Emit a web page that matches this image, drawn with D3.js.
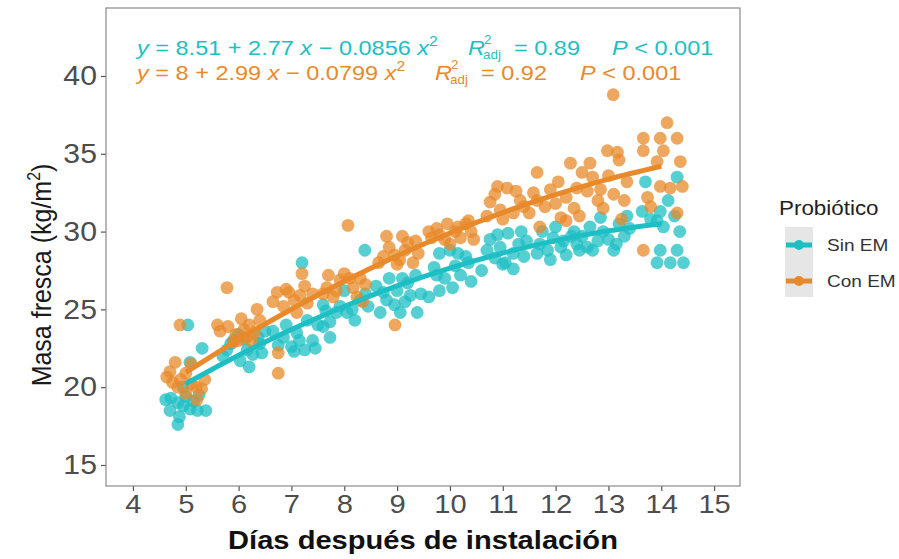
<!DOCTYPE html>
<html>
<head>
<meta charset="utf-8">
<script src="https://cdn.jsdelivr.net/npm/d3@7"></script>
<style>
  body { margin: 0; background: #fff; }
  text { font-family: "Liberation Sans", Arial, sans-serif; }
</style>
</head>
<body>
<svg id="chart" width="899" height="559"></svg>
<script>
// Dades llegides de la figura
const days = [5, 6, 7, 8, 9, 10, 11, 12, 13, 14];
const xTicks = [4, 5, 6, 7, 8, 9, 10, 11, 12, 13, 14, 15];
const yTicks = [15, 20, 25, 30, 35, 40];

// Corbes ajustades (valors de les equacions als dies)
const fitSin = [20.22, 22.05, 23.71, 25.19, 26.51, 27.65, 28.62, 29.42, 30.05, 30.51];
const fitCon = [20.95, 23.06, 25.01, 26.81, 28.44, 29.91, 31.22, 32.37, 33.37, 34.20];

// Punts Sin EM [x, y]
const sinEM = [
  [4.62,19.2],[4.72,19.3],[4.85,19.0],[4.95,18.8],[5.08,18.6],[5.22,18.5],[5.38,18.5],[4.7,18.5],[4.88,18.1],[4.85,17.6],[5.0,19.4],[5.15,19.1],[5.04,24.0],[5.31,22.5],[5.08,21.6],[4.95,20.0],[5.25,19.5],
  [5.78,22.4],[6.03,21.7],[6.16,22.4],[6.27,22.1],[6.44,22.2],[6.37,23.2],[5.9,23.0],[6.1,23.1],[5.7,22.0],[6.2,21.3],[6.4,22.8],[5.85,22.8],[6.5,23.6],[6.0,23.4],
  [7.2,28.0],[6.75,22.7],[6.85,23.2],[7.0,22.6],[7.1,23.5],[7.25,22.4],[7.4,23.0],[6.9,24.0],[7.3,24.3],[7.05,22.3],[7.45,22.5],[6.65,23.6],[7.15,23.0],[7.5,24.0],
  [7.6,25.3],[7.92,25.2],[7.73,24.2],[8.05,24.8],[8.15,25.0],[7.6,23.9],[7.73,23.2],[8.39,28.8],[8.3,25.6],[8.2,24.3],[7.85,24.8],[8.4,26.0],[8.0,26.2],[8.45,25.2],[7.65,24.9],
  [8.74,26.1],[9.0,26.2],[9.25,25.9],[8.95,25.3],[8.68,24.8],[9.06,24.8],[9.38,24.8],[8.8,25.6],[9.2,26.7],[9.35,27.2],[9.1,27.0],[8.6,26.5],[9.45,26.0],[8.85,27.0],[9.15,25.5],
  [10.0,28.8],[10.3,28.4],[10.6,27.5],[9.8,28.6],[9.7,27.7],[9.6,25.8],[9.8,26.2],[10.1,27.8],[10.2,27.2],[9.9,27.0],[10.4,26.8],[10.05,26.4],[9.75,27.2],[10.35,28.0],[10.15,28.6],
  [10.76,29.5],[10.95,29.0],[11.1,29.9],[11.2,28.6],[10.85,28.3],[11.3,29.2],[11.05,28.0],[11.4,28.4],[10.7,28.8],[11.2,27.6],[10.9,29.8],[11.35,30.0],[11.0,27.9],[11.45,29.4],
  [12.0,30.3],[12.3,29.7],[11.7,29.2],[11.85,28.8],[12.1,29.0],[12.4,29.2],[11.65,28.6],[12.2,28.5],[11.95,29.6],[12.35,30.0],[11.75,30.0],[12.15,29.4],[12.45,28.8],[11.9,28.2],
  [12.85,30.9],[12.65,30.3],[13.2,30.5],[13.3,29.7],[12.7,28.8],[13.1,28.8],[12.5,29.7],[13.0,29.5],[12.9,30.0],[13.35,31.0],[12.6,29.0],[13.15,29.2],[13.4,30.2],[12.8,29.4],
  [13.7,33.2],[14.3,33.5],[14.13,32.0],[13.98,31.3],[13.64,31.3],[13.92,30.7],[13.98,28.8],[14.3,28.8],[13.92,28.0],[14.17,28.0],[14.42,28.0],[14.04,30.3],[14.25,31.0],[13.8,30.8],[14.35,30.0]
];

// Punts Con EM [x, y]
const conEM = [
  [4.64,20.65],[4.75,20.3],[4.85,20.0],[4.9,20.5],[5.0,20.9],[5.1,21.5],[5.2,20.0],[5.3,19.9],[5.36,20.5],[4.89,24.0],[4.8,21.6],[5.0,19.6],[5.21,19.2],[4.7,21.0],[5.1,20.2],
  [5.78,26.4],[5.65,23.6],[5.8,23.9],[5.95,23.4],[6.1,23.7],[6.2,24.0],[6.3,23.5],[5.9,22.9],[6.05,24.4],[6.25,22.9],[6.35,25.0],[5.6,24.0],[6.15,23.2],[6.4,24.3],[6.0,23.0],
  [6.75,20.9],[6.75,22.2],[7.2,27.3],[6.73,26.1],[6.95,26.1],[7.05,25.6],[7.16,25.9],[7.3,25.4],[6.85,25.2],[7.4,26.0],[6.9,26.3],[7.1,24.8],[6.65,25.5],[7.25,26.5],
  [8.07,30.4],[7.67,26.4],[7.79,25.8],[7.92,26.9],[8.17,26.4],[8.24,25.8],[7.7,27.2],[8.0,27.3],[8.3,27.0],[7.85,26.2],[8.4,26.6],[8.1,27.0],[7.6,26.0],[8.35,25.5],
  [8.8,29.7],[9.1,29.7],[8.74,28.4],[8.95,28.5],[9.15,28.8],[9.3,28.0],[9.0,27.9],[8.85,29.0],[9.2,29.3],[9.4,28.6],[8.65,28.0],[9.05,28.2],[8.96,24.0],[9.35,29.4],
  [9.95,30.5],[10.1,30.0],[10.3,30.5],[10.4,30.0],[9.8,29.8],[9.65,29.6],[10.0,29.2],[10.2,29.6],[9.75,30.2],[10.45,29.5],[10.15,30.3],[9.9,29.5],[10.35,30.7],[9.6,30.0],
  [10.76,31.9],[11.08,32.8],[11.33,32.0],[10.95,31.4],[11.58,32.5],[11.65,33.8],[10.85,32.4],[11.2,31.2],[10.7,31.0],[11.4,31.6],[11.0,30.8],[11.25,32.6],[11.5,31.2],[10.9,32.9],
  [11.9,32.7],[12.2,32.2],[12.2,30.7],[11.7,30.3],[12.28,34.4],[12.5,33.8],[12.05,33.2],[11.8,31.6],[12.35,31.5],[12.0,31.8],[12.4,32.8],[11.65,32.0],[12.1,30.9],[12.45,31.0],
  [13.09,38.8],[12.98,35.2],[13.17,35.1],[13.2,34.6],[12.65,34.4],[12.7,33.5],[12.85,32.7],[12.8,32.0],[13.3,32.0],[13.0,33.6],[13.1,32.4],[12.6,32.6],[13.35,33.2],[12.9,31.5],[13.25,30.8],
  [14.11,37.0],[14.3,36.0],[13.98,36.0],[13.66,36.0],[13.66,35.2],[14.04,35.2],[14.36,34.5],[13.92,34.5],[13.98,32.9],[14.17,32.8],[14.4,32.9],[13.74,32.2],[13.8,31.6],[14.3,31.2],[13.66,28.8]
];

const colSin = "#1dbfc4", colCon = "#e8892a";
const SX = 1.12; // la figura original és una mica eixamplada en horitzontal

const panel = { left: 106, right: 740, top: 8, bottom: 486 };

const svg = d3.select("#chart");

// Text eixamplat horitzontalment
function stext(g, x, y, str, size, opts = {}) {
  const t = g.append("text")
    .attr("transform", `translate(${x},${y}) scale(${opts.sx || SX},1)`)
    .attr("text-anchor", opts.anchor || "start")
    .attr("fill", opts.fill || "#222")
    .style("font-size", size + "px")
    .text(str);
  if (opts.italic) t.style("font-style", "italic");
  if (opts.bold) t.style("font-weight", "bold");
  return t;
}

// Escales
const x = d3.scaleLinear().domain([3.49, 15.49]).range([panel.left, panel.right]);
const y = d3.scaleLinear().domain([13.65, 44.37]).range([panel.bottom, panel.top]);

// Eixos
const gx = svg.append("g")
  .attr("transform", `translate(0,${panel.bottom})`)
  .call(d3.axisBottom(x).tickValues(xTicks).tickSize(5).tickPadding(4).tickFormat(d3.format("d")));
const gy = svg.append("g")
  .attr("transform", `translate(${panel.left},0)`)
  .call(d3.axisLeft(y).tickValues(yTicks).tickSize(5).tickPadding(3));
[gx, gy].forEach(g => {
  g.select(".domain").remove();
  g.selectAll(".tick line").attr("stroke", "#555").attr("stroke-width", 1.2);
  g.selectAll(".tick text").attr("fill", "#4d4d4d").style("font-size", "26px")
    .style("font-family", "Liberation Sans, Arial, sans-serif")
    .attr("transform", `scale(${SX},1)`);
});
gy.selectAll(".tick text").attr("x", -9 / SX).style("font-size", "27px");

// Punts
const pts = svg.append("g");
pts.selectAll(".sin").data(sinEM).enter().append("circle")
  .attr("cx", d => x(d[0])).attr("cy", d => y(d[1])).attr("r", 6.4)
  .attr("fill", colSin).attr("fill-opacity", 0.75);
pts.selectAll(".con").data(conEM).enter().append("circle")
  .attr("cx", d => x(d[0])).attr("cy", d => y(d[1])).attr("r", 6.4)
  .attr("fill", colCon).attr("fill-opacity", 0.75);

// Línies d'ajust
const line = d3.line().x((d, i) => x(days[i])).y(d => y(d)).curve(d3.curveCatmullRom);
svg.append("path").datum(fitSin).attr("d", line)
  .attr("fill", "none").attr("stroke", colSin).attr("stroke-width", 5);
svg.append("path").datum(fitCon).attr("d", line)
  .attr("fill", "none").attr("stroke", colCon).attr("stroke-width", 5);

// Vora del panell
svg.append("rect")
  .attr("x", panel.left).attr("y", panel.top)
  .attr("width", panel.right - panel.left).attr("height", panel.bottom - panel.top)
  .attr("fill", "none").attr("stroke", "#8a8a8a").attr("stroke-width", 1.2);

// Equacions
function eqLine(yy, col, eqText, rx, r2, px) {
  const t = svg.append("text")
    .attr("transform", `translate(137,${yy}) scale(${SX},1)`)
    .attr("fill", col).style("font-size", "21px");
  eqText.forEach(s => {
    const ts = t.append("tspan").text(s.t);
    if (s.i) ts.style("font-style", "italic");
    if (s.sup) ts.attr("dy", -9).style("font-size", "14px");
  });
  stext(svg, rx, yy, "R", 21, { fill: col, italic: true });
  stext(svg, rx + 16, yy - 11, "2", 12, { fill: col });
  stext(svg, rx + 15, yy + 4, "adj", 12, { fill: col });
  stext(svg, rx + 46, yy, "= " + r2, 21, { fill: col });
  const p = svg.append("text")
    .attr("transform", `translate(${px},${yy}) scale(${SX},1)`)
    .attr("fill", col).style("font-size", "21px");
  p.append("tspan").text("P").style("font-style", "italic");
  p.append("tspan").text(" < 0.001");
}
eqLine(55, colSin,
  [{t: "y", i: 1}, {t: " = 8.51 + 2.77 "}, {t: "x", i: 1}, {t: " \u2212 0.0856 "}, {t: "x", i: 1}, {t: "2", sup: 1}],
  468, "0.89", 612);
eqLine(80, colCon,
  [{t: "y", i: 1}, {t: " = 8 + 2.99 "}, {t: "x", i: 1}, {t: " \u2212 0.0799 "}, {t: "x", i: 1}, {t: "2", sup: 1}],
  435, "0.92", 580);

// Títols dels eixos
const yt = svg.append("text")
  .attr("transform", "translate(51,275) rotate(-90) scale(1,1.12)")
  .attr("text-anchor", "middle").attr("fill", "#1a1a1a").style("font-size", "25px");
yt.append("tspan").text("Masa fresca  (kg/m");
yt.append("tspan").text("2").attr("dy", -10).style("font-size", "16px");
yt.append("tspan").text(")").attr("dy", 10);

stext(svg, 423, 549, "Días después de instalación", 26, { anchor: "middle", bold: true, fill: "#111" });

// Llegenda
const lg = svg.append("g");
stext(lg, 779, 215, "Probiótico", 20, { fill: "#222" });
lg.append("rect").attr("x", 785).attr("y", 227).attr("width", 28).attr("height", 70).attr("fill", "#e6e6e6");
[[colSin, "Sin EM", 245], [colCon, "Con EM", 281]].forEach(([c, lab, yy]) => {
  lg.append("line").attr("x1", 786).attr("x2", 812).attr("y1", yy).attr("y2", yy)
    .attr("stroke", c).attr("stroke-width", 5);
  lg.append("circle").attr("cx", 799).attr("cy", yy).attr("r", 5).attr("fill", c);
  stext(lg, 827, yy + 6, lab, 17, { fill: "#333" });
});
</script>
</body>
</html>
